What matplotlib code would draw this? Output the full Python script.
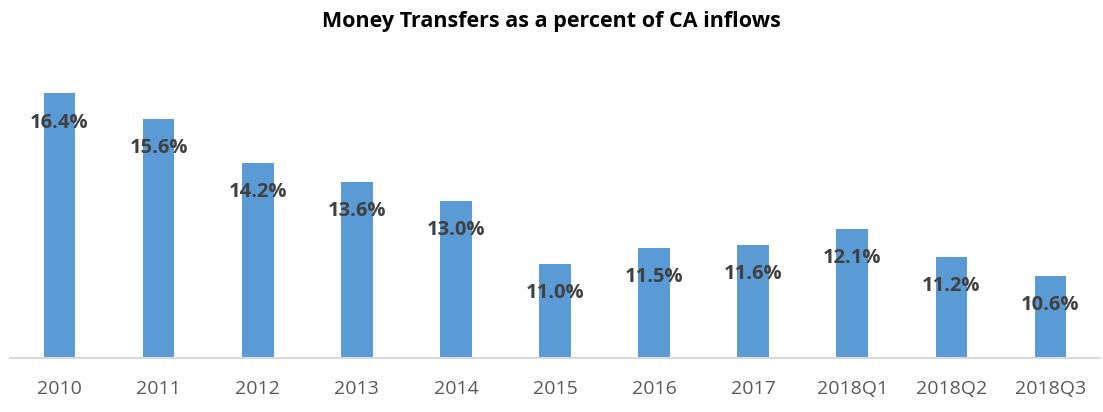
import matplotlib
matplotlib.use("Agg")
import matplotlib.pyplot as plt

CATEGORIES = ["2010", "2011", "2012", "2013", "2014", "2015", "2016", "2017",
              "2018Q1", "2018Q2", "2018Q3"]
VALUES = [16.4, 15.6, 14.2, 13.6, 13.0, 11.0, 11.5, 11.6, 12.1, 11.2, 10.6]

plt.rcParams["font.family"] = ["Open Sans", "DejaVu Sans"]

fig = plt.figure(figsize=(11.03, 4.12), dpi=100)
ax = fig.add_axes([10 / 1103, 1 - 358 / 412, 1090 / 1103, 315 / 412])

x = range(len(VALUES))
bars = ax.bar(x, VALUES, width=0.32, color="#5b9bd5", zorder=2)
for xi, v in zip(x, VALUES):
    ax.annotate(f"{v:.1f}%", (xi, v), xytext=(0, -21), textcoords="offset points",
                ha="center", va="center", fontsize=14.5, fontweight="bold",
                color="#404040", zorder=3)

ax.set_xlim(-0.5, len(VALUES) - 0.5)
ax.set_ylim(8, 18)
ax.set_xticks(list(x))
ax.set_xticklabels(CATEGORIES, fontsize=14, color="#595959")
ax.tick_params(axis="x", length=0, pad=16)
ax.set_yticks([])
for s in ["top", "right", "left"]:
    ax.spines[s].set_visible(False)
ax.spines["bottom"].set_color("#d9d9d9")
ax.spines["bottom"].set_linewidth(1.5)

fig.text(0.5, 1 - 22 / 412, "Money Transfers as a percent of CA inflows",
         ha="center", va="center", fontsize=15.5, fontweight="bold", color="black")

fig.savefig("out.png", dpi=100)
